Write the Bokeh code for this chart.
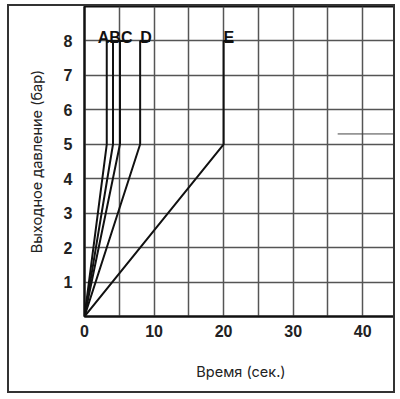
from bokeh.plotting import figure
from bokeh.embed import file_html
from bokeh.resources import INLINE
from bokeh.models import FixedTicker, ColumnDataSource
from bokeh.core.properties import value

# data
series = ["A", "B", "C", "D", "E"]
t_at_knee = [3.2, 4.1, 5.1, 8.0, 20.0]   # seconds to reach knee pressure
knee_pressure = 5
max_pressure = 8
x_ticks = [0, 10, 20, 30, 40]
y_ticks = [1, 2, 3, 4, 5, 6, 7, 8]
leader_x = [36.4, 45]
leader_y = [5.3, 5.3]

CAP = 1.4

p = figure(width=384, height=385, x_range=(0, 45), y_range=(0, 9),
           output_backend="svg", toolbar_location=None,
           min_border_top=0, min_border_right=0, min_border_left=75,
           min_border_bottom=79)
p.styles = {"border": "2px solid #333", "box-sizing": "content-box",
            "margin-left": "7px", "margin-top": "4px"}

p.xgrid.ticker = FixedTicker(ticks=list(range(0, 46, 5)))
p.ygrid.ticker = FixedTicker(ticks=list(range(0, 10)))
for g in (p.xgrid, p.ygrid):
    g.grid_line_color = "#555555"
    g.grid_line_width = 1.5

p.outline_line_color = "#111111"
p.outline_line_width = 2

p.xaxis.ticker = FixedTicker(ticks=x_ticks)
p.yaxis.ticker = FixedTicker(ticks=y_ticks)
for ax in (p.xaxis, p.yaxis):
    ax.major_tick_line_color = None
    ax.minor_tick_line_color = None
    ax.axis_line_color = "#111111"
    ax.axis_line_width = 2
    ax.major_label_text_font = "Liberation Sans"
    ax.major_label_text_font_style = "bold"
    ax.major_label_text_font_size = "16px"
    ax.major_label_text_color = "#222222"
    ax.axis_label_text_font = "Inter"
    ax.axis_label_text_font_style = "normal"
    ax.axis_label_text_font_size = "14.5px"
    ax.axis_label_text_color = "#222222"
p.xaxis.axis_label_standoff = 23
p.yaxis.axis_label_standoff = 16
p.xaxis.major_label_standoff = 2
p.yaxis.major_label_standoff = 6
p.xaxis.axis_label = "Время (сек.)"
p.yaxis.axis_label = "Выходное давление (бар)"

for name, t in zip(series, t_at_knee):
    xs = [0, t, t, t + CAP]
    ys = [0, knee_pressure, max_pressure, max_pressure]
    p.line(xs, ys, line_color="#111111", line_width=2)

p.line(leader_x, leader_y, line_color="#444444", line_width=1)

# labels
lab_x = [t_at_knee[1] + 0.3, t_at_knee[3], t_at_knee[4]]
lab_t = ["".join(series[:3]), series[3], series[4]]
lab_align = ["center", "left", "left"]
src = ColumnDataSource(dict(x=lab_x, y=[max_pressure] * 3, text=lab_t, align=lab_align))
p.text(x="x", y="y", text="text", source=src, text_align="align",
       text_baseline="alphabetic", y_offset=-3,
       text_font=value("Liberation Sans"), text_font_style="bold",
       text_font_size="16px", text_color="#111111")

open("out.html", "w").write(file_html(p, INLINE))
